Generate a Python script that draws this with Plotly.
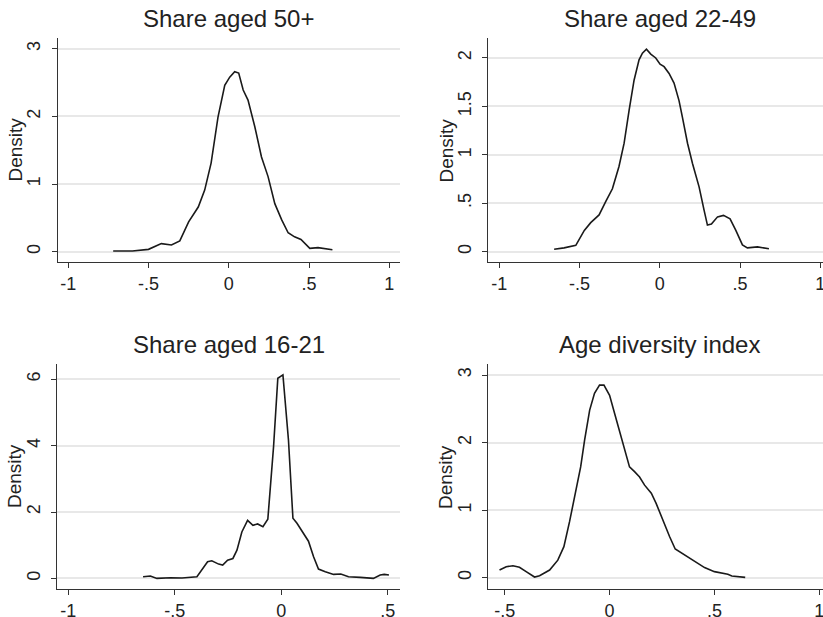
import plotly.graph_objects as go

# ---- data ----
titles = ["Share aged 50+", "Share aged 22-49", "Share aged 16-21", "Age diversity index"]
y_title = "Density"

p1_x = [-0.72, -0.60, -0.50, -0.42, -0.357, -0.305, -0.25, -0.19, -0.15, -0.11, -0.067, -0.025,
        0.006, 0.037, 0.062, 0.09, 0.12, 0.162, 0.204, 0.245, 0.287, 0.33, 0.37, 0.41, 0.45,
        0.505, 0.556, 0.646]
p1_y = [0.01, 0.01, 0.035, 0.12, 0.10, 0.16, 0.44, 0.66, 0.91, 1.31, 1.99, 2.46,
        2.58, 2.66, 2.64, 2.39, 2.24, 1.85, 1.40, 1.11, 0.71, 0.47, 0.28, 0.22, 0.18,
        0.05, 0.06, 0.03]

p2_x = [-0.658, -0.596, -0.523, -0.47, -0.43, -0.378, -0.336, -0.295, -0.254, -0.222, -0.191,
        -0.16, -0.129, -0.108, -0.083, -0.056, -0.025, 0.002, 0.027, 0.058, 0.089, 0.12, 0.141,
        0.173, 0.204, 0.245, 0.276, 0.297, 0.322, 0.36, 0.397, 0.438, 0.474, 0.515, 0.546,
        0.609, 0.68]
p2_y = [0.025, 0.04, 0.066, 0.22, 0.30, 0.38, 0.52, 0.65, 0.88, 1.12, 1.46,
        1.77, 1.98, 2.05, 2.09, 2.04, 2.00, 1.935, 1.91, 1.84, 1.74, 1.56, 1.39,
        1.12, 0.91, 0.67, 0.43, 0.275, 0.285, 0.36, 0.375, 0.34, 0.22, 0.07, 0.04,
        0.05, 0.03]

p3_x = [-0.649, -0.615, -0.584, -0.52, -0.466, -0.396, -0.346, -0.326, -0.294, -0.275, -0.252,
        -0.227, -0.208, -0.185, -0.158, -0.133, -0.111, -0.086, -0.063, -0.036, -0.016, 0.008,
        0.034, 0.055, 0.074, 0.102, 0.128, 0.152, 0.175, 0.207, 0.246, 0.28, 0.316, 0.371,
        0.433, 0.465, 0.484, 0.506]
p3_y = [0.05, 0.07, 0.0, 0.02, 0.01, 0.05, 0.50, 0.53, 0.43, 0.40, 0.55,
        0.60, 0.85, 1.40, 1.75, 1.60, 1.64, 1.56, 1.78, 3.97, 6.03, 6.13,
        4.17, 1.81, 1.66, 1.36, 1.12, 0.65, 0.28, 0.20, 0.12, 0.13, 0.05, 0.03,
        0.0, 0.10, 0.12, 0.10]

p4_x = [-0.525, -0.493, -0.461, -0.43, -0.398, -0.358, -0.334, -0.286, -0.247, -0.218, -0.191,
        -0.164, -0.138, -0.119, -0.095, -0.072, -0.048, -0.027, 0.0, 0.024, 0.048, 0.072, 0.095,
        0.119, 0.143, 0.167, 0.199, 0.222, 0.254, 0.286, 0.313, 0.358, 0.406, 0.453, 0.50,
        0.564, 0.583, 0.647]
p4_y = [0.114, 0.163, 0.178, 0.154, 0.09, 0.01, 0.03, 0.114, 0.26, 0.46, 0.83,
        1.25, 1.64, 2.04, 2.48, 2.73, 2.85, 2.85, 2.70, 2.43, 2.16, 1.86, 1.64,
        1.57, 1.49, 1.37, 1.25, 1.10, 0.85, 0.61, 0.425, 0.34, 0.24, 0.15, 0.09,
        0.05, 0.025, 0.005]

xs = [p1_x, p2_x, p3_x, p4_x]
ys = [p1_y, p2_y, p3_y, p4_y]

x_tickvals = [[-1, -0.5, 0, 0.5, 1], [-1, -0.5, 0, 0.5, 1], [-1, -0.5, 0, 0.5], [-0.5, 0, 0.5, 1]]
x_ticktext = [["-1", "-.5", "0", ".5", "1"], ["-1", "-.5", "0", ".5", "1"],
              ["-1", "-.5", "0", ".5"], ["-.5", "0", ".5", "1"]]
y_tickvals = [[0, 1, 2, 3], [0, 0.5, 1, 1.5, 2], [0, 2, 4, 6], [0, 1, 2, 3]]
y_ticktext = [["0", "1", "2", "3"], ["0", ".5", "1", "1.5", "2"], ["0", "2", "4", "6"], ["0", "1", "2", "3"]]

# ---- layout geometry ----
W, H = 823, 617
x_ranges = [[-1.067, 1.067], [-1.07, 1.017], [-1.052, 0.558], [-0.58, 1.018]]
y_ranges = [[-0.152, 3.158], [-0.106, 2.206], [-0.32, 6.46], [-0.167, 3.163]]
x_px = [(57.5, 400), (488, 823), (57.3, 400), (488, 823)]
y_px = [(38, 262), (38, 262), (364, 589), (364, 589)]
title_px = [(228.7, 18.5), (659.5, 18.5), (228.7, 344), (659.5, 344)]
ytitle_px = [(14.5, 150), (445.5, 150), (14.5, 476.5), (445.5, 476.5)]

FONT = "Liberation Sans, Arial, Helvetica, sans-serif"
TXT = "#222222"
AX = "#333333"

fig = go.Figure()
layout = dict(
    width=W, height=H, margin=dict(l=0, r=0, t=0, b=0, pad=0, autoexpand=False),
    paper_bgcolor="white", plot_bgcolor="white", showlegend=False,
    font=dict(family=FONT, color=TXT),
)
annotations = []
for i in range(4):
    n = "" if i == 0 else str(i + 1)
    fig.add_trace(go.Scatter(x=xs[i], y=ys[i], mode="lines",
                             line=dict(color="#1a1a1a", width=1.6),
                             xaxis="x" + n, yaxis="y" + n, hoverinfo="skip"))
    xd = [x_px[i][0] / W, x_px[i][1] / W]
    yd = [1 - y_px[i][1] / H, 1 - y_px[i][0] / H]
    layout["xaxis" + n] = dict(
        domain=xd, range=x_ranges[i], anchor="y" + n, automargin=False,
        tickmode="array", tickvals=x_tickvals[i], ticktext=x_ticktext[i],
        ticks="outside", ticklen=5, tickwidth=1, tickcolor=AX,
        showline=True, linecolor=AX, linewidth=1,
        showgrid=False, zeroline=False, ticklabeloverflow="allow",
        tickfont=dict(size=18, color=TXT, family=FONT),
    )
    layout["yaxis" + n] = dict(
        domain=yd, range=y_ranges[i], anchor="x" + n, automargin=False,
        tickmode="array", tickvals=y_tickvals[i], ticktext=y_ticktext[i],
        ticks="outside", ticklen=5, tickwidth=1, tickcolor=AX,
        showline=True, linecolor=AX, linewidth=1,
        showgrid=True, gridcolor="#e8e8e8", gridwidth=1.5, zeroline=False,
        tickangle=-90, ticklabelstandoff=4, ticklabeloverflow="allow",
        tickfont=dict(size=18, color=TXT, family=FONT),
    )
    annotations.append(dict(
        text=titles[i], xref="paper", yref="paper",
        x=title_px[i][0] / W, y=1 - title_px[i][1] / H,
        xanchor="center", yanchor="middle", showarrow=False,
        font=dict(size=24, color=TXT, family=FONT),
    ))
    annotations.append(dict(
        text=y_title, xref="paper", yref="paper",
        x=ytitle_px[i][0] / W, y=1 - ytitle_px[i][1] / H,
        xanchor="center", yanchor="middle", showarrow=False, textangle=-90,
        font=dict(size=19, color=TXT, family=FONT),
    ))
layout["annotations"] = annotations
fig.update_layout(**layout)
fig.write_html(
    "out.html",
    config={"displayModeBar": False},
    post_script="document.body.style.margin='0';document.body.style.overflow='hidden';",
)
